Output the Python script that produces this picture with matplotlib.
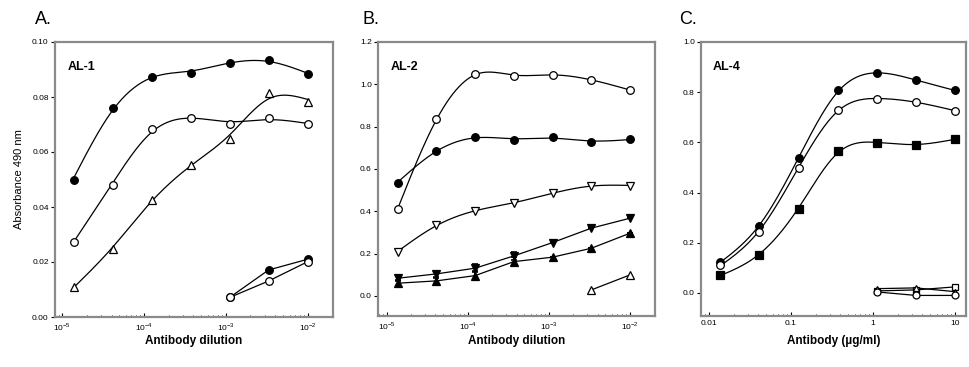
import numpy as np
import matplotlib
matplotlib.use("Agg")
import matplotlib.pyplot as plt
from matplotlib.ticker import LogLocator, NullFormatter

plt.rcParams['font.family'] = ['Liberation Sans', 'DejaVu Sans']
plt.rcParams['mathtext.fontset'] = 'custom'
plt.rcParams['mathtext.rm'] = 'Liberation Sans'

# ---------------- data ----------------
dil = [1e-2 / 3**k for k in range(6, -1, -1)]          # antibody dilutions
dil3 = dil[-3:]
dil2 = dil[-2:]
conc = [10 / 3**k for k in range(6, -1, -1)]           # antibody ug/ml
conc3 = conc[-3:]

# Panel A (AL-1)
a_filled = [0.0498, 0.0759, 0.0874, 0.0886, 0.0925, 0.0933, 0.0884]
a_open = [0.0272, 0.0480, 0.0683, 0.0723, 0.0702, 0.0723, 0.0702]
a_tri = [0.0108, 0.0248, 0.0425, 0.0553, 0.0646, 0.0813, 0.0783]
a_ctrl_filled = [0.0071, 0.0171, 0.0210]
a_ctrl_open = [0.0071, 0.0131, 0.0201]

# Panel B (AL-2)
b_open = [0.411, 0.835, 1.049, 1.039, 1.046, 1.021, 0.973]
b_filled = [0.535, 0.687, 0.750, 0.737, 0.750, 0.729, 0.740]
b_dtri_open = [0.209, 0.335, 0.403, 0.438, 0.485, 0.521, 0.521]
b_dtri_filled = [0.0835, 0.104, 0.131, 0.189, 0.252, 0.320, 0.367]
b_dtri_err = [0.015, 0.015, 0.02, 0.02, 0, 0, 0]
b_tri_filled = [0.060, 0.071, 0.096, 0.162, 0.183, 0.225, 0.296]
b_tri_err = [0.015, 0.015, 0.02, 0.02, 0, 0, 0]
b_tri_open = [0.028, 0.099]

# Panel C (AL-4)
c_filled = [0.124, 0.266, 0.537, 0.807, 0.876, 0.847, 0.807]
c_open = [0.110, 0.244, 0.499, 0.730, 0.772, 0.760, 0.726]
c_square = [0.0707, 0.153, 0.334, 0.566, 0.597, 0.590, 0.613]
c_ctrl_sq = [0.008, 0.012, 0.024]
c_ctrl_tri = [0.017, 0.020, 0.005]
c_ctrl_circ = [0.004, -0.010, -0.010]


def smooth_curve(x, y, lam=5e-4, per=40):
    """Penalised smoothing curve (approx. cubic smoothing spline) in log-x."""
    lx = np.log10(np.asarray(x, float))
    y = np.asarray(y, float)
    lo, rng = y.min(), np.ptp(y)
    yn = (y - lo) / rng
    m = len(lx)
    n = (m - 1) * per + 1
    g = np.linspace(lx[0], lx[-1], n)
    h = g[1] - g[0]
    E = np.zeros((m, n))
    for i in range(m):
        E[i, i * per] = 1.0
    D = np.diff(np.eye(n), 2, axis=0) / h**2
    Amat = E.T @ E + lam * h * (D.T @ D)
    f = np.linalg.solve(Amat, E.T @ yn)
    return 10**g, f * rng + lo


LW = 0.9
MS = 5.5
SP = '#8a8a8a'


def curve(ax, x, y, marker, filled, smooth=True, ms=MS, yerr=None, lam=5e-4):
    if smooth:
        xs, ys = smooth_curve(x, y, lam=lam)
        ax.plot(xs, ys, color='black', lw=LW, zorder=2)
    else:
        ax.plot(x, y, color='black', lw=LW, zorder=2)
    if yerr is not None:
        ax.errorbar(x, y, yerr=yerr, fmt='none', ecolor='black', elinewidth=1.2,
                    capsize=2.5, capthick=1.2, zorder=3)
    ax.plot(x, y, linestyle='none', marker=marker, ms=ms,
            mfc='black' if filled else 'white', mec='black', mew=0.9, zorder=4)


fig = plt.figure(figsize=(9.69, 3.67), dpi=100)
W, H = 969, 367


def mkax(l, r, t, b):
    return fig.add_axes([l / W, (H - b) / H, (r - l) / W, (b - t) / H])


axA = mkax(55, 333, 42, 317)
axB = mkax(378, 655, 42, 316)
axC = mkax(701, 966, 42, 316)

# Panel A
curve(axA, dil, a_filled, 'o', True, lam=4e-3)
curve(axA, dil, a_open, 'o', False, lam=4e-3)
curve(axA, dil, a_tri, '^', False, lam=4e-3)
curve(axA, dil3, a_ctrl_filled, 'o', True, smooth=False)
curve(axA, dil3, a_ctrl_open, 'o', False, smooth=False)
axA.set_ylim(0, 0.10)
axA.set_xlim(10**-5.089, 10**-1.69)
axA.set_yticks([0.00, 0.02, 0.04, 0.06, 0.08, 0.10])
axA.set_yticklabels(['0.00', '0.02', '0.04', '0.06', '0.08', '0.10'])

# Panel B
curve(axB, dil, b_open, 'o', False, lam=1e-3)
curve(axB, dil, b_filled, 'o', True, lam=3e-3)
curve(axB, dil, b_dtri_open, 'v', False, lam=3e-3)
curve(axB, dil, b_dtri_filled, 'v', True, smooth=False, yerr=b_dtri_err)
curve(axB, dil, b_tri_filled, '^', True, smooth=False, yerr=b_tri_err)
curve(axB, dil2, b_tri_open, '^', False, smooth=False)
axB.set_ylim(-0.095, 1.2)
axB.set_xlim(10**-5.107, 10**-1.69)
axB.set_yticks([0.0, 0.2, 0.4, 0.6, 0.8, 1.0, 1.2])
axB.set_yticklabels(['0.0', '0.2', '0.4', '0.6', '0.8', '1.0', '1.2'])

# Panel C
curve(axC, conc, c_filled, 'o', True, lam=1.5e-3)
curve(axC, conc, c_open, 'o', False, lam=1.5e-3)
curve(axC, conc, c_square, 's', True, lam=1.5e-3)
curve(axC, conc3, c_ctrl_sq, 's', False, smooth=False, ms=5)
curve(axC, conc3, c_ctrl_tri, '^', False, smooth=False, ms=5)
curve(axC, conc3, c_ctrl_circ, 'o', False, smooth=False, ms=5)
axC.set_ylim(-0.092, 1.0)
axC.set_xlim(10**-2.098, 10**1.134)
axC.set_yticks([0.0, 0.2, 0.4, 0.6, 0.8, 1.0])
axC.set_yticklabels(['0.0', '0.2', '0.4', '0.6', '0.8', '1.0'])

for ax in (axA, axB, axC):
    ax.set_xscale('log')
    ax.xaxis.set_minor_locator(LogLocator(base=10, subs=np.arange(2, 10)))
    ax.xaxis.set_minor_formatter(NullFormatter())
    for s in ax.spines.values():
        s.set_color(SP)
        s.set_linewidth(1.6)
    ax.tick_params(axis='x', which='major', direction='in', length=3, width=0.8,
                   colors='black', labelsize=6, pad=3)
    ax.tick_params(axis='x', which='minor', direction='in', length=1.5, width=0.6)
    ax.tick_params(axis='y', which='major', direction='out', length=3, width=0.8,
                   labelsize=6, pad=1.5)

axA.set_xticks([1e-5, 1e-4, 1e-3, 1e-2])
axA.set_xticklabels(['$10^{-5}$', '$10^{-4}$', '$10^{-3}$', '$10^{-2}$'])
axB.set_xticks([1e-5, 1e-4, 1e-3, 1e-2])
axB.set_xticklabels(['$10^{-5}$', '$10^{-4}$', '$10^{-3}$', '$10^{-2}$'])
axC.set_xticks([0.01, 0.1, 1, 10])
axC.set_xticklabels(['0.01', '0.1', '1', '10'])

axA.set_ylabel('Absorbance 490 nm', fontsize=8, labelpad=6)
for ax, lab, b in ((axA, 'Antibody dilution', 317), (axB, 'Antibody dilution', 316),
                   (axC, 'Antibody (µg/ml)', 316)):
    ax.set_xlabel(lab, fontsize=8.5, fontweight='bold')
    ax.xaxis.set_label_coords(0.5, -(341 - b) / 274.0)
    ax.xaxis.label.set_va('center')

for ax, lab in ((axA, 'AL-1'), (axB, 'AL-2'), (axC, 'AL-4')):
    ax.text(0.045, 0.93, lab, transform=ax.transAxes, fontsize=9,
            fontweight='bold', va='top', ha='left')

for x, lab in ((35, 'A.'), (362, 'B.'), (679, 'C.')):
    fig.text(x / W, 1 - 20 / H, lab, fontsize=13, va='center', ha='left')

fig.savefig('out.png', dpi=100)
